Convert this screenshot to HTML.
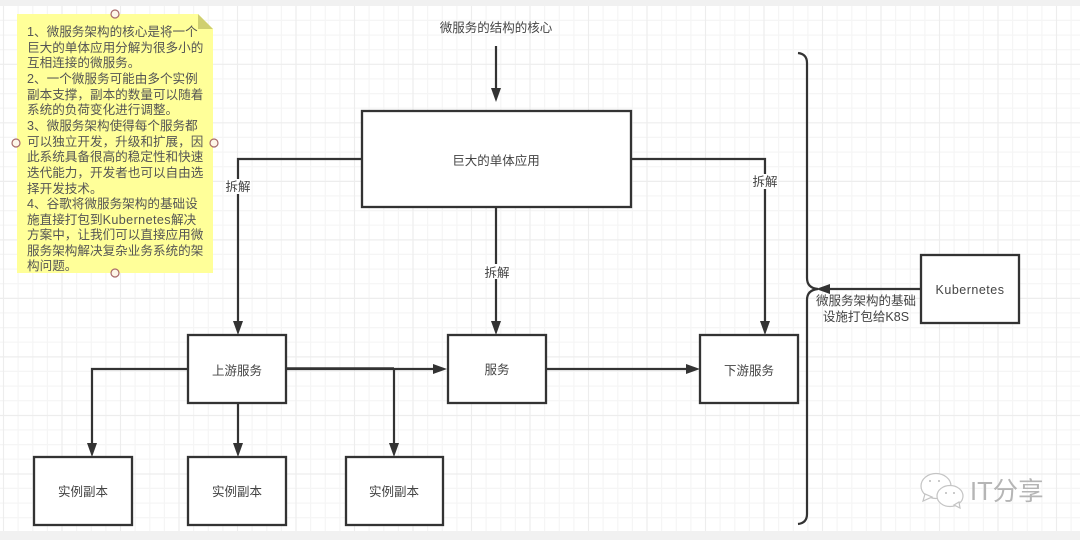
<!DOCTYPE html>
<html>
<head>
<meta charset="utf-8">
<style>
html,body{margin:0;padding:0;background:#fff;width:1080px;height:540px;overflow:hidden}
svg{display:block;filter:blur(.35px)}
text{font-family:"Liberation Sans","Noto Sans CJK SC",sans-serif;fill:#444;font-size:12.5px}
.c{text-anchor:middle;dominant-baseline:central;transform:translateY(1px)}
.b{fill:#fff;stroke:#333;stroke-width:2.3}
.l{fill:none;stroke:#333;stroke-width:2.2}
.a{fill:#333;stroke:none}
.h{fill:#fdf6e8;stroke:#a86a6a;stroke-width:1.2}
.n{font-size:12.6px;fill:#555}
</style>
</head>
<body>
<svg width="1080" height="540" viewBox="0 0 1080 540" xmlns="http://www.w3.org/2000/svg">
<rect width="1080" height="540" fill="#f1f1f1"/>
<rect x="0" y="6" width="1080" height="525" fill="#fff"/>

<!-- grid -->
<path fill="none" stroke="#f5f5f5" stroke-width="1.2" d="M18.100 6V531M32.800 6V531M47.400 6V531M76.600 6V531M91.300 6V531M105.900 6V531M135.100 6V531M149.800 6V531M164.400 6V531M193.600 6V531M208.300 6V531M222.900 6V531M252.100 6V531M266.800 6V531M281.400 6V531M310.600 6V531M325.300 6V531M339.900 6V531M369.100 6V531M383.800 6V531M398.400 6V531M427.600 6V531M442.300 6V531M456.900 6V531M486.100 6V531M500.800 6V531M515.400 6V531M544.600 6V531M559.300 6V531M573.900 6V531M603.100 6V531M617.800 6V531M632.400 6V531M661.600 6V531M676.300 6V531M690.900 6V531M720.100 6V531M734.800 6V531M749.400 6V531M778.600 6V531M793.300 6V531M807.900 6V531M837.100 6V531M851.800 6V531M866.400 6V531M895.600 6V531M910.300 6V531M924.900 6V531M954.100 6V531M968.800 6V531M983.400 6V531M1012.600 6V531M1027.300 6V531M1041.900 6V531M1071.100 6V531"/>
<path fill="none" stroke="#f5f5f5" stroke-width="1.2" d="M0 20.400H1080M0 35.100H1080M0 49.700H1080M0 78.900H1080M0 93.600H1080M0 108.200H1080M0 137.400H1080M0 152.100H1080M0 166.700H1080M0 195.900H1080M0 210.600H1080M0 225.200H1080M0 254.400H1080M0 269.100H1080M0 283.700H1080M0 312.900H1080M0 327.600H1080M0 342.200H1080M0 371.400H1080M0 386.100H1080M0 400.700H1080M0 429.900H1080M0 444.600H1080M0 459.200H1080M0 488.400H1080M0 503.100H1080M0 517.700H1080"/>
<path fill="none" stroke="#ededed" stroke-width="1.2" d="M3.500 6V531M62 6V531M120.500 6V531M179 6V531M237.500 6V531M296 6V531M354.500 6V531M413 6V531M471.500 6V531M530 6V531M588.500 6V531M647 6V531M705.500 6V531M764 6V531M822.500 6V531M881 6V531M939.500 6V531M998 6V531M1056.500 6V531M0 64.300H1080M0 122.800H1080M0 181.400H1080M0 239.900H1080M0 298.400H1080M0 356.900H1080M0 415.500H1080M0 474H1080"/>

<!-- note -->
<path d="M17 14H198L213 29V273H17Z" fill="#ffff99"/>
<path d="M198 14L213 29H198Z" fill="#cfcf70"/>
<circle class="h" cx="115" cy="14" r="4"/>
<circle class="h" cx="16" cy="143" r="4"/>
<circle class="h" cx="214" cy="143" r="4"/>
<circle class="h" cx="115" cy="273" r="4"/>
<text class="n" x="27" y="36">1、微服务架构的核心是将一个</text>
<text class="n" x="27" y="52">巨大的单体应用分解为很多小的</text>
<text class="n" x="27" y="67">互相连接的微服务。</text>
<text class="n" x="27" y="83">2、一个微服务可能由多个实例</text>
<text class="n" x="27" y="99">副本支撑，副本的数量可以随着</text>
<text class="n" x="27" y="114">系统的负荷变化进行调整。</text>
<text class="n" x="27" y="130">3、微服务架构使得每个服务都</text>
<text class="n" x="27" y="146">可以独立开发，升级和扩展，因</text>
<text class="n" x="27" y="161">此系统具备很高的稳定性和快速</text>
<text class="n" x="27" y="177">迭代能力，开发者也可以自由选</text>
<text class="n" x="27" y="193">择开发技术。</text>
<text class="n" x="27" y="208">4、谷歌将微服务架构的基础设</text>
<text class="n" x="27" y="224">施直接打包到<tspan letter-spacing=".4">Kubernetes</tspan>解决</text>
<text class="n" x="27" y="239">方案中，让我们可以直接应用微</text>
<text class="n" x="27" y="255">服务架构解决复杂业务系统的架</text>
<text class="n" x="27" y="270">构问题。</text>

<!-- connectors -->
<path class="l" d="M496 46V90"/>
<path class="a" d="M491 88H501L496 102Z"/>
<path class="l" d="M362 159H238V322"/>
<path class="a" d="M233 321H243L238 335Z"/>
<path class="l" d="M631 159H765V322"/>
<path class="a" d="M760 321H770L765 335Z"/>
<path class="l" d="M496 207V322"/>
<path class="a" d="M491 321H501L496 335Z"/>
<path class="l" d="M188 369H92V445"/>
<path class="a" d="M87 443H97L92 457Z"/>
<path class="l" d="M238 403V445"/>
<path class="a" d="M233 443H243L238 457Z"/>
<path class="l" style="stroke-width:2.8" d="M286 368.700H394"/>
<path class="l" d="M394 369H436"/>
<path class="a" d="M433 364L447 369L433 374Z"/>
<path class="l" d="M394 369V445"/>
<path class="a" d="M389 443H399L394 457Z"/>
<path class="l" d="M546 369H688"/>
<path class="a" d="M686 364L700 369L686 374Z"/>
<path class="l" d="M921 289H828"/>
<path class="a" d="M830 284V294L816 289Z"/>

<!-- brace -->
<path class="l" d="M798 53Q807 54 807 63V278Q807 288 818 289Q807 290 807 300V514Q807 523 798 524"/>

<!-- boxes -->
<rect class="b" x="362" y="111" width="269" height="96"/>
<rect class="b" x="188" y="335" width="98" height="68"/>
<rect class="b" x="448" y="335" width="98" height="68"/>
<rect class="b" x="700" y="335" width="98" height="68"/>
<rect class="b" x="921" y="255" width="98" height="68"/>
<rect class="b" x="34" y="457" width="98" height="68"/>
<rect class="b" x="188" y="457" width="98" height="68"/>
<rect class="b" x="346" y="457" width="97" height="68"/>

<!-- labels -->
<text class="c" x="496" y="27">微服务的结构的核心</text>
<text class="c" x="496" y="160">巨大的单体应用</text>
<text class="c" x="237" y="370">上游服务</text>
<text class="c" x="497" y="369">服务</text>
<text class="c" x="749" y="370">下游服务</text>
<text class="c" x="970" y="289" letter-spacing=".5">Kubernetes</text>
<text class="c" x="83" y="491">实例副本</text>
<text class="c" x="237" y="491">实例副本</text>
<text class="c" x="394" y="491">实例副本</text>

<rect x="225" y="179" width="26" height="15" fill="#fff"/>
<text class="c" x="238" y="186">拆解</text>
<rect x="752" y="174" width="26" height="15" fill="#fff"/>
<text class="c" x="765" y="181">拆解</text>
<rect x="484" y="264" width="26" height="15" fill="#fff"/>
<text class="c" x="497" y="272">拆解</text>

<text class="c" x="866" y="300">微服务架构的基础</text>
<text class="c" x="866" y="316">设施打包给K8S</text>

<!-- watermark -->
<g fill="#fff" stroke="#c4c4c4" stroke-width="1.2">
<ellipse cx="936" cy="486" rx="15" ry="12.500"/>
<path d="M925 494L923 501L932 497Z"/>
<ellipse cx="950" cy="496" rx="13" ry="10.500"/>
<path d="M954 505L960 508L959 502Z"/>
</g>
<g fill="#bbb">
<circle cx="930" cy="481" r="1"/><circle cx="939" cy="481" r="1"/>
<circle cx="946" cy="493" r="1"/><circle cx="954" cy="493" r="1"/>
</g>
<text x="970" y="500" style="font-size:25.500px;fill:#b5b5b5">IT分享</text>
</svg>
</body>
</html>
